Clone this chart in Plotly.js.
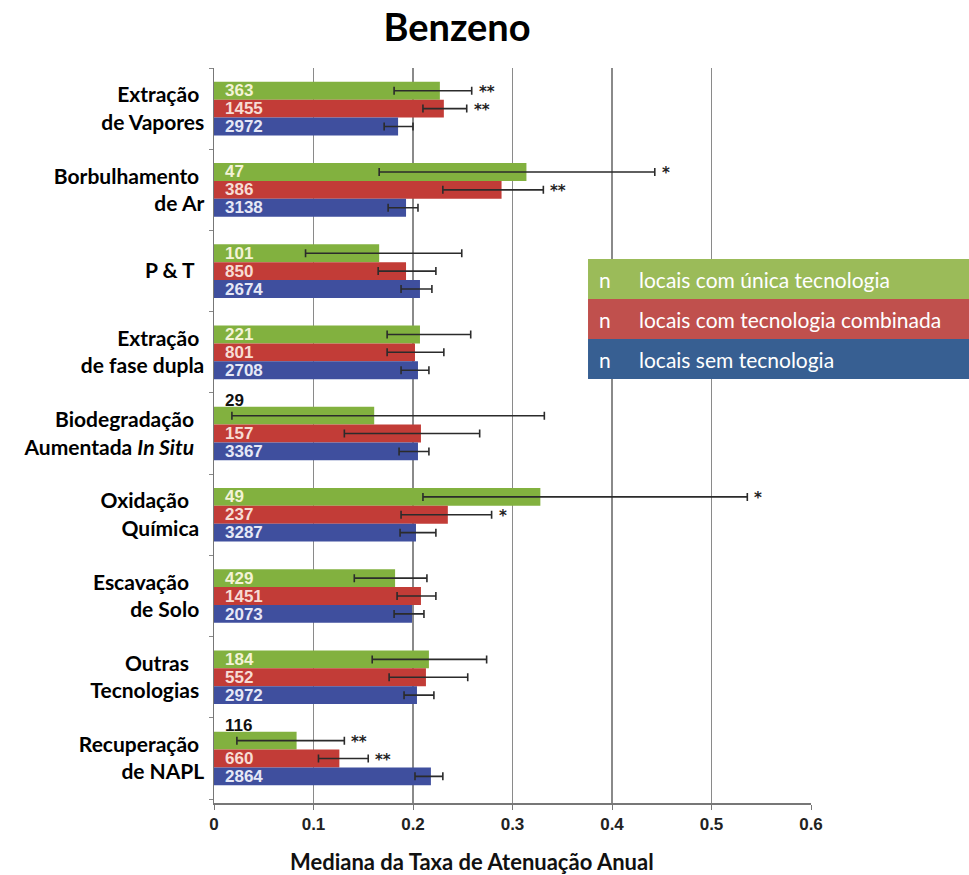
<!DOCTYPE html>
<html>
<head>
<meta charset="utf-8">
<script src="https://cdn.plot.ly/plotly-3.0.1.min.js"></script>
<style>html,body{margin:0;padding:0;background:#fff;}#chart{width:969px;height:875px;}</style>
</head>
<body>
<div id="chart"></div>
<script>
// ---- data ----
const categories = ['Extração de Vapores','Borbulhamento de Ar','P & T','Extração de fase dupla','Biodegradação Aumentada In Situ','Oxidação Química','Escavação de Solo','Outras Tecnologias','Recuperação de NAPL'];
const categoryLabels = ['Extração\u00a0<br>de Vapores','Borbulhamento\u00a0<br>de Ar','P & T\u00a0\u00a0','Extração\u00a0<br>de fase dupla','Biodegradação\u00a0\u00a0<br>Aumentada <i>In Situ</i>\u00a0\u00a0','Oxidação\u00a0\u00a0\u00a0<br>Química\u00a0','Escavação\u00a0\u00a0\u00a0<br>de Solo\u00a0','Outras\u00a0\u00a0\u00a0<br>Tecnologias\u00a0','Recuperação\u00a0<br>de NAPL'];
const seriesNames = ['locais com única tecnologia','locais com tecnologia combinada','locais sem tecnologia'];

const greenVal = [0.227, 0.314, 0.166, 0.207, 0.161, 0.328, 0.182, 0.216, 0.083];
const greenLow = [0.181, 0.166, 0.092, 0.174, 0.018, 0.210, 0.141, 0.159, 0.023];
const greenHigh = [0.259, 0.443, 0.249, 0.258, 0.332, 0.536, 0.214, 0.274, 0.131];
const redVal = [0.231, 0.289, 0.193, 0.202, 0.208, 0.235, 0.208, 0.213, 0.126];
const redLow = [0.210, 0.230, 0.165, 0.174, 0.131, 0.188, 0.184, 0.176, 0.105];
const redHigh = [0.254, 0.331, 0.223, 0.231, 0.267, 0.279, 0.223, 0.255, 0.155];
const blueVal = [0.185, 0.193, 0.207, 0.205, 0.205, 0.203, 0.199, 0.204, 0.218];
const blueLow = [0.171, 0.175, 0.188, 0.188, 0.186, 0.187, 0.181, 0.191, 0.202];
const blueHigh = [0.200, 0.205, 0.219, 0.216, 0.216, 0.223, 0.211, 0.221, 0.230];

const nGreen = [363, 47, 101, 221, 29, 49, 429, 184, 116];
const nRed = [1455, 386, 850, 801, 157, 237, 1451, 552, 660];
const nBlue = [2972, 3138, 2674, 2708, 3367, 3287, 2073, 2972, 2864];

const sigGreen = ['**', '*', '', '', '', '*', '', '', '**'];
const sigRed = ['**', '**', '', '', '', '*', '', '', '**'];
const sigBlue = ['', '', '', '', '', '', '', '', ''];

const xTickVals = [0, 0.1, 0.2, 0.3, 0.4, 0.5, 0.6];

// ---- styling / build ----
const barColors = ['#82b13f', '#c23c37', '#3f4f9e'];
const legendColors = ['#9bbb59', '#c0504d', '#375f92'];
const labelColors = ['#f3f3d6', '#f7dcd4', '#e6e8f6'];
const labelsAboveCats = ['Biodegradação Aumentada In Situ', 'Recuperação de NAPL'];

const series = [
  {v: greenVal, lo: greenLow, hi: greenHigh, n: nGreen, sig: sigGreen},
  {v: redVal, lo: redLow, hi: redHigh, n: nRed, sig: sigRed},
  {v: blueVal, lo: blueLow, hi: blueHigh, n: nBlue, sig: sigBlue}
];

const traces = series.map((s, i) => ({
  type: 'bar',
  orientation: 'h',
  name: seriesNames[i],
  y: categories,
  x: s.v,
  marker: {color: barColors[i], line: {width: 0}},
  error_x: {
    type: 'data', symmetric: false,
    array: s.v.map((v, k) => s.hi[k] - v),
    arrayminus: s.v.map((v, k) => v - s.lo[k]),
    color: '#2b2b2b', thickness: 1.6, width: 4
  },
  hoverinfo: 'x+y'
}));

const barStep = 18; // px between bar centers within a group
const annotations = [];
series.forEach((s, i) => {
  const shift = (1 - i) * barStep;
  categories.forEach((c, k) => {
    const above = (i === 0 && labelsAboveCats.includes(c));
    annotations.push({
      x: 0, y: c, xref: 'x', yref: 'y', xanchor: 'left', yanchor: 'middle',
      xshift: 9, yshift: shift + (above ? 15 : 0),
      text: '<b>' + s.n[k] + '</b>', showarrow: false,
      font: {family: 'Liberation Sans Narrow, Liberation Sans, Arial', size: 17, color: above ? '#111' : labelColors[i]}
    });
    if (s.sig[k]) {
      annotations.push({
        x: s.hi[k], y: c, xref: 'x', yref: 'y', xanchor: 'left', yanchor: 'middle',
        xshift: 5, yshift: shift - 1,
        text: '<b>' + s.sig[k] + '</b>', showarrow: false,
        font: {family: 'DejaVu Sans', size: 15, color: '#222'}
      });
    }
  });
});

// legend box
const legTop = 0.740, rowH = 0.0544;
const shapes = [];
seriesNames.forEach((nm, i) => {
  const y1 = legTop - i * rowH, y0 = y1 - rowH;
  shapes.push({type: 'rect', xref: 'paper', yref: 'paper', x0: 0.6265, x1: 1.2647, y0: y0, y1: y1,
    fillcolor: legendColors[i], line: {width: 0}, layer: 'above'});
  annotations.push({x: 0.6265, y: (y0 + y1) / 2, xref: 'paper', yref: 'paper', xanchor: 'left', yanchor: 'middle',
    xshift: 9, text: 'n', showarrow: false, font: {family: 'Lato, Noto Sans', size: 21, color: '#ffffff'}});
  annotations.push({x: 0.6265, y: (y0 + y1) / 2, xref: 'paper', yref: 'paper', xanchor: 'left', yanchor: 'middle',
    xshift: 49, text: nm, showarrow: false, font: {family: 'Lato, Noto Sans', size: 21, color: '#ffffff'}});
});

// x axis title
annotations.push({x: 0.432, y: -0.08, xref: 'paper', yref: 'paper', xanchor: 'center', yanchor: 'middle',
  text: '<b>Mediana da Taxa de Atenuação Anual</b>', showarrow: false,
  font: {family: 'Lato, Noto Sans', size: 22, color: '#111'}});

const layout = {
  width: 969, height: 875,
  margin: {l: 214, r: 158, t: 68, b: 72},
  paper_bgcolor: '#ffffff', plot_bgcolor: '#ffffff',
  showlegend: false,
  barmode: 'group', bargap: 0.34, bargroupgap: 0,
  title: {text: '<b>Benzeno</b>', x: 457 / 969, xanchor: 'center', xref: 'container', y: 1 - 28 / 875, yanchor: 'middle', yref: 'container',
    font: {family: 'Lato, Noto Sans', size: 38, color: '#000'}},
  xaxis: {
    range: [0, 0.6], tickvals: xTickVals, ticktext: xTickVals.map(v => '<b>' + v + '</b>'),
    showgrid: true, gridcolor: '#8a8a8a', gridwidth: 1.5,
    zeroline: false, showline: true, linecolor: '#777', linewidth: 1.5,
    ticks: 'outside', ticklen: 5, tickcolor: '#777',
    tickfont: {family: 'Liberation Sans, Arial', size: 17, color: '#222'}
  },
  yaxis: {
    type: 'category', autorange: 'reversed',
    tickvals: categories, ticktext: categoryLabels,
    tickson: 'boundaries', ticks: 'outside', ticklen: 4, tickcolor: '#888',
    ticklabelstandoff: 4,
    showline: true, linecolor: '#777', linewidth: 1.5, showgrid: false, zeroline: false,
    tickfont: {family: 'Lato, Noto Sans', size: 21, color: '#000', weight: 'bold'}
  },
  annotations: annotations,
  shapes: shapes
};

Plotly.newPlot('chart', traces, layout, {displayModeBar: false, staticPlot: true});
</script>
</body>
</html>
